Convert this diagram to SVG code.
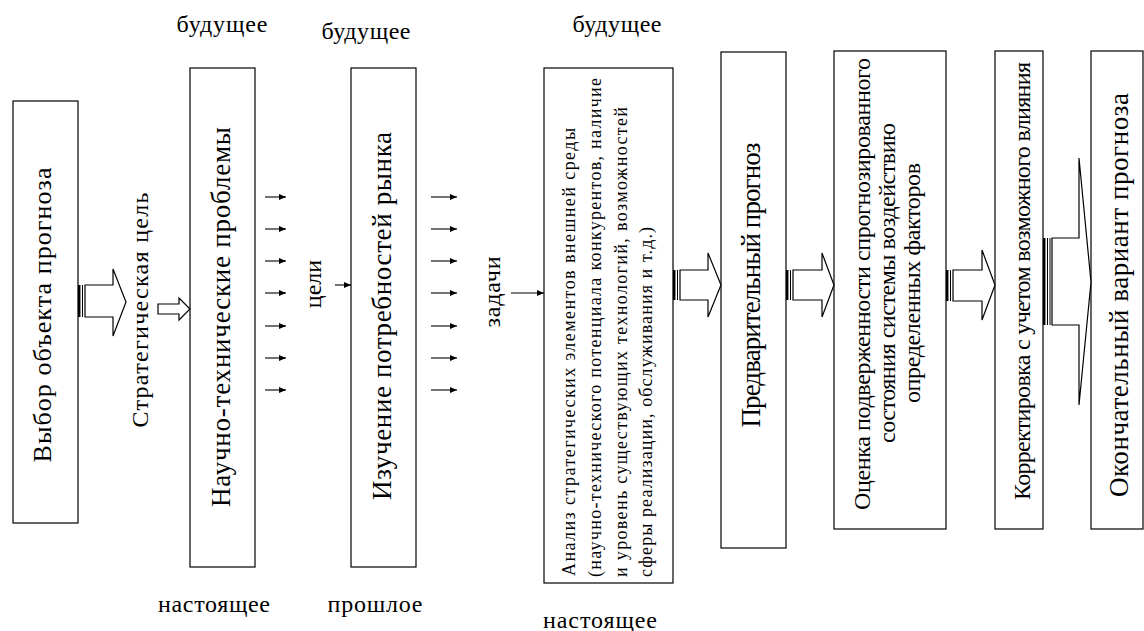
<svg xmlns="http://www.w3.org/2000/svg" width="1144" height="631" viewBox="0 0 1144 631">
<defs>
<style>
.box{fill:#fff;stroke:#000;stroke-width:1.2}
.t{font-family:"Liberation Serif",serif;fill:#000}
.blk{fill:#fff;stroke:#000;stroke-width:1.2;stroke-linejoin:miter}
.bar{stroke:#000;fill:none}
.sm{stroke:#000;stroke-width:1.1;fill:none}
</style>
<marker id="ah" markerUnits="userSpaceOnUse" markerWidth="7" markerHeight="6" refX="7" refY="3" orient="auto">
<path d="M0,0 L7,3 L0,6 Z" fill="#000"/>
</marker>
</defs>
<rect width="1144" height="631" fill="#fff"/>
<g id="n1">
<rect class="box" x="13" y="101" width="65" height="422"/>
<g transform="translate(51,315) rotate(-90)"><text class="t" font-size="26" text-anchor="middle" textLength="295">Выбор объекта прогноза</text></g>
</g>
<g id="n2">
<rect class="box" x="190" y="68" width="65" height="499"/>
<g transform="translate(230,317) rotate(-90)"><text class="t" font-size="27" text-anchor="middle" textLength="380">Научно-технические проблемы</text></g>
</g>
<g id="n3">
<rect class="box" x="351" y="68" width="65" height="499"/>
<g transform="translate(391,316) rotate(-90)"><text class="t" font-size="27" text-anchor="middle" textLength="368">Изучение потребностей рынка</text></g>
</g>
<g id="n4">
<rect class="box" x="544" y="68" width="129" height="515"/>
<g transform="translate(575,576) rotate(-90)"><text class="t" font-size="18" textLength="448">Анализ стратегических элементов внешней среды</text></g>
<g transform="translate(601,577) rotate(-90)"><text class="t" font-size="18" textLength="499">(научно-технического потенциала конкурентов, наличие</text></g>
<g transform="translate(627,577) rotate(-90)"><text class="t" font-size="18" textLength="470">и уровень существующих технологий, возможностей</text></g>
<g transform="translate(652,577) rotate(-90)"><text class="t" font-size="18" textLength="350">сферы реализации, обслуживания и т.д.)</text></g>
</g>
<g id="n5">
<rect class="box" x="721" y="52" width="65" height="496"/>
<g transform="translate(760,285) rotate(-90)"><text class="t" font-size="27" text-anchor="middle" textLength="285">Предварительный прогноз</text></g>
</g>
<g id="n6">
<rect class="box" x="834" y="51" width="112" height="478"/>
<g transform="translate(870,284) rotate(-90)"><text class="t" font-size="24" text-anchor="middle" textLength="452">Оценка подверженности спрогнозированного</text></g>
<g transform="translate(895,283) rotate(-90)"><text class="t" font-size="24" text-anchor="middle" textLength="320">состояния  системы воздействию</text></g>
<g transform="translate(920,283) rotate(-90)"><text class="t" font-size="24" text-anchor="middle" textLength="240">определенных факторов</text></g>
</g>
<g id="n7">
<rect class="box" x="995" y="51" width="48" height="478"/>
<g transform="translate(1030,281) rotate(-90)"><text class="t" font-size="24" text-anchor="middle" textLength="438">Корректировка с учетом возможного влияния</text></g>
</g>
<g id="n8">
<rect class="box" x="1091" y="51" width="52" height="478"/>
<g transform="translate(1128,295) rotate(-90)"><text class="t" font-size="27" text-anchor="middle" textLength="404">Окончательный вариант прогноза</text></g>
</g>
<g id="labels">
<g transform="translate(148,310) rotate(-90)"><text class="t" font-size="24" text-anchor="middle" textLength="235">Стратегическая цель</text></g>
<g transform="translate(321,284) rotate(-90)"><text class="t" font-size="24" text-anchor="middle">цели</text></g>
<g transform="translate(500,292) rotate(-90)"><text class="t" font-size="24" text-anchor="middle" textLength="71">задачи</text></g>
<text class="t" font-size="24" text-anchor="middle" x="222" y="32" textLength="91">будущее</text>
<text class="t" font-size="24" text-anchor="middle" x="366" y="39" textLength="89">будущее</text>
<text class="t" font-size="24" text-anchor="middle" x="617" y="32" textLength="89">будущее</text>
<text class="t" font-size="24" text-anchor="middle" x="214" y="612" textLength="112">настоящее</text>
<text class="t" font-size="24" text-anchor="middle" x="375" y="612" textLength="95">прошлое</text>
<text class="t" font-size="24" text-anchor="middle" x="600" y="628" textLength="114">настоящее</text>
</g>
<g id="connectors">
<path class="blk" d="M85,285 L113,285 L113,269 L126,302 L113,336 L113,317 L85,317 Z"/>
<line class="bar" x1="79.2" y1="285" x2="79.2" y2="317" stroke-width="2.5"/>
<line class="bar" x1="82.5" y1="285" x2="82.5" y2="317" stroke-width="1"/>
<path class="blk" d="M158,304 L179,304 L179,298 L190,309 L179,320 L179,314 L158,314 Z"/>
<line class="sm" x1="265" y1="197" x2="286" y2="197" marker-end="url(#ah)"/>
<line class="sm" x1="265" y1="229" x2="286" y2="229" marker-end="url(#ah)"/>
<line class="sm" x1="265" y1="261" x2="286" y2="261" marker-end="url(#ah)"/>
<line class="sm" x1="265" y1="293" x2="286" y2="293" marker-end="url(#ah)"/>
<line class="sm" x1="265" y1="326" x2="286" y2="326" marker-end="url(#ah)"/>
<line class="sm" x1="265" y1="358" x2="286" y2="358" marker-end="url(#ah)"/>
<line class="sm" x1="265" y1="390" x2="286" y2="390" marker-end="url(#ah)"/>
<line class="sm" x1="335" y1="285" x2="351" y2="285" marker-end="url(#ah)"/>
<line class="sm" x1="431" y1="197" x2="457" y2="197" marker-end="url(#ah)"/>
<line class="sm" x1="431" y1="229" x2="457" y2="229" marker-end="url(#ah)"/>
<line class="sm" x1="431" y1="261" x2="457" y2="261" marker-end="url(#ah)"/>
<line class="sm" x1="431" y1="293" x2="457" y2="293" marker-end="url(#ah)"/>
<line class="sm" x1="431" y1="326" x2="457" y2="326" marker-end="url(#ah)"/>
<line class="sm" x1="431" y1="358" x2="457" y2="358" marker-end="url(#ah)"/>
<line class="sm" x1="431" y1="390" x2="457" y2="390" marker-end="url(#ah)"/>
<line class="sm" x1="511" y1="293" x2="544" y2="293" marker-end="url(#ah)"/>
<path class="blk" d="M680,270 L708,270 L708,253 L721,285 L708,317 L708,300 L680,300 Z"/>
<line class="bar" x1="674.2" y1="270" x2="674.2" y2="300" stroke-width="2.5"/>
<line class="bar" x1="677.5" y1="270" x2="677.5" y2="300" stroke-width="1"/>
<path class="blk" d="M793,270 L822,270 L822,253 L834,285 L822,317 L822,300 L793,300 Z"/>
<line class="bar" x1="787.2" y1="270" x2="787.2" y2="300" stroke-width="2.5"/>
<line class="bar" x1="790.5" y1="270" x2="790.5" y2="300" stroke-width="1"/>
<path class="blk" d="M953,270 L982,270 L982,250 L995,285 L982,320 L982,301 L953,301 Z"/>
<line class="bar" x1="947.2" y1="270" x2="947.2" y2="301" stroke-width="2.5"/>
<line class="bar" x1="950.5" y1="270" x2="950.5" y2="301" stroke-width="1"/>
<path class="blk" d="M1052,238 L1079,238 L1079,158 L1091,282 L1079,405 L1079,325 L1052,325 Z"/>
<line class="bar" x1="1044.2" y1="238" x2="1044.2" y2="325" stroke-width="2.5"/>
<line class="bar" x1="1047.5" y1="238" x2="1047.5" y2="325" stroke-width="1"/>
<line class="bar" x1="1050" y1="238" x2="1050" y2="325" stroke-width="1"/>
</g>
</svg>
